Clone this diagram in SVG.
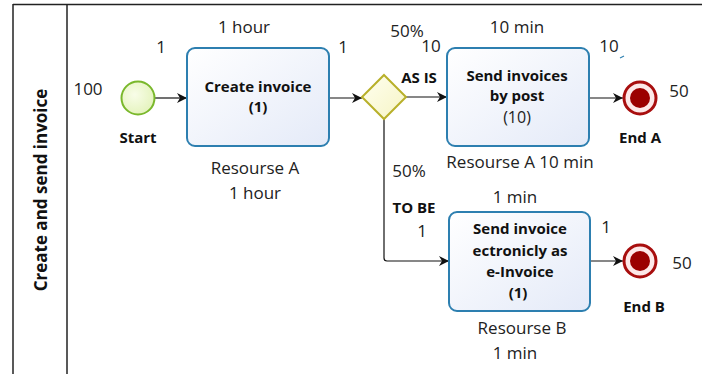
<svg xmlns="http://www.w3.org/2000/svg" width="702" height="374" viewBox="0 0 702 374">
<defs>
<linearGradient id="taskFill" x1="0" y1="0" x2="1" y2="1">
<stop offset="0" stop-color="#ffffff"/>
<stop offset="1" stop-color="#e4eaf8"/>
</linearGradient>
<radialGradient id="startFill" cx="0.4" cy="0.4" r="0.7">
<stop offset="0" stop-color="#f8fde8"/>
<stop offset="1" stop-color="#e2f2b8"/>
</radialGradient>
<linearGradient id="gwFill" x1="0" y1="0" x2="1" y2="1">
<stop offset="0" stop-color="#fffff0"/>
<stop offset="1" stop-color="#f6f4c4"/>
</linearGradient>
<marker id="arr" markerWidth="12" markerHeight="12" refX="10" refY="5" orient="auto" markerUnits="userSpaceOnUse">
<path d="M0,0 L10,5 L0,10 L3,5 Z" fill="#111"/>
</marker>
</defs>
<style>
text{font-family:"Open Sans","Noto Sans","Liberation Sans",sans-serif;font-size:17px;fill:#222;text-anchor:middle}
.b{font-weight:bold;font-size:15px;fill:#111}
.task{fill:url(#taskFill);stroke:#2d7fb0;stroke-width:2}
.end{fill:#fde8e8;stroke:#a80e0e;stroke-width:3}
.endin{fill:#9b0000}
.conn{fill:none;stroke:#111;stroke-width:1.2;marker-end:url(#arr)}
.frame{fill:none;stroke:#222;stroke-width:1.5}
</style>
<rect x="0" y="0" width="702" height="374" fill="#ffffff"/>
<g id="pool">
<line class="frame" x1="13" y1="4.5" x2="702" y2="4.5" stroke-width="2"/>
<line class="frame" x1="13" y1="4" x2="13" y2="374"/>
<line class="frame" x1="67" y1="4" x2="67" y2="374"/>
<text class="b" transform="translate(47,190) rotate(-90)" style="font-size:17px">Create and send invoice</text>
</g>
<g id="connectors">
<line class="conn" x1="155" y1="98" x2="187" y2="98"/>
<line class="conn" x1="329" y1="98" x2="362" y2="98"/>
<line class="conn" x1="406" y1="97" x2="447" y2="97"/>
<line class="conn" x1="589" y1="98" x2="623" y2="98"/>
<line class="conn" x1="590" y1="261" x2="623" y2="261"/>
<path class="conn" d="M384,119 L384,258 Q384,261 387,261 L449,261"/>
</g>
<g id="start">
<circle cx="138" cy="98" r="16.5" fill="url(#startFill)" stroke="#7ab82c" stroke-width="2"/>
<text class="b" x="138" y="143">Start</text>
<text x="88" y="95">100</text>
</g>
<g id="createInvoice">
<rect class="task" x="187" y="48" width="142" height="98" rx="8"/>
<text class="b" x="258" y="92">Create invoice</text>
<text class="b" x="258" y="112">(1)</text>
<text x="244" y="33">1 hour</text>
<text x="161" y="53">1</text>
<text x="343" y="53">1</text>
<text x="255" y="174">Resourse A</text>
<text x="255" y="199">1 hour</text>
</g>
<g id="gateway">
<polygon points="384,75 406,97 384,119 362,97" fill="url(#gwFill)" stroke="#b8b02a" stroke-width="2"/>
<text x="407" y="37">50%</text>
<text x="431" y="52">10</text>
<text class="b" x="419" y="83">AS IS</text>
<text x="409" y="177">50%</text>
<text class="b" x="414" y="213">TO BE</text>
<text x="422" y="237">1</text>
</g>
<g id="sendPost">
<rect class="task" x="447" y="48" width="142" height="98" rx="8"/>
<text class="b" x="517" y="81">Send invoices</text>
<text class="b" x="517" y="101">by post</text>
<text x="517" y="123" style="font-size:16px">(10)</text>
<text x="517" y="33">10 min</text>
<text x="609" y="52">10</text>
<path d="M620,58 L624,56" stroke="#2d7fb0" stroke-width="1.2"/>
<text x="520" y="168">Resourse A 10 min</text>
</g>
<g id="endA">
<circle class="end" cx="640" cy="98" r="16"/>
<circle class="endin" cx="640" cy="98" r="10"/>
<text x="679" y="97">50</text>
<text class="b" x="640" y="143">End A</text>
</g>
<g id="sendE">
<rect class="task" x="449" y="212" width="141" height="99" rx="8"/>
<text class="b" x="520" y="234">Send invoice</text>
<text class="b" x="520" y="256">ectronicly as</text>
<text class="b" x="520" y="277">e-Invoice</text>
<text class="b" x="518" y="298">(1)</text>
<text x="515" y="203">1 min</text>
<text x="606" y="233">1</text>
<text x="522" y="334">Resourse B</text>
<text x="515" y="359">1 min</text>
</g>
<g id="endB">
<circle class="end" cx="640" cy="261" r="16"/>
<circle class="endin" cx="640" cy="261" r="10"/>
<text x="682" y="269">50</text>
<text class="b" x="644" y="312">End B</text>
</g>
</svg>
